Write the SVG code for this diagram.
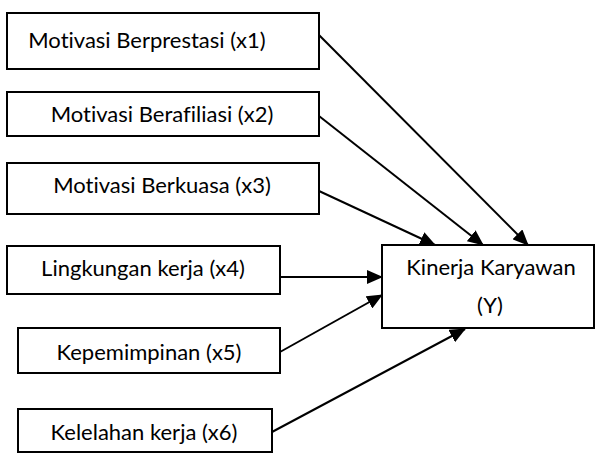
<svg xmlns="http://www.w3.org/2000/svg" width="597" height="455" viewBox="0 0 597 455">
<defs>
<style>
.box{fill:#fff;stroke:#000;stroke-width:2}
.t{font-family:"Lato","Open Sans","Liberation Sans",sans-serif;font-size:22px;fill:#000;text-anchor:middle;font-variant-ligatures:none}
.c{stroke:#000;stroke-width:2;fill:none;marker-end:url(#ah)}
</style>
<marker id="ah" markerUnits="userSpaceOnUse" markerWidth="16" markerHeight="14" refX="15" refY="7" orient="auto">
<path d="M0,0 L16,7 L0,14 Z" fill="#000"/>
</marker>
</defs>
<g id="n1"><rect class="box" x="7" y="13" width="312" height="56"/><text class="t" x="147" y="48">Motivasi Berprestasi (x1)</text></g>
<g id="n2"><rect class="box" x="7" y="92" width="312" height="44"/><text class="t" x="162" y="122">Motivasi Berafiliasi (x2)</text></g>
<g id="n3"><rect class="box" x="7" y="163" width="312" height="51"/><text class="t" x="162" y="193">Motivasi Berkuasa (x3)</text></g>
<g id="n4"><rect class="box" x="7" y="246" width="273" height="48"/><text class="t" x="143" y="276">Lingkungan kerja (x4)</text></g>
<g id="n5"><rect class="box" x="18" y="328" width="262" height="45"/><text class="t" x="149" y="360">Kepemimpinan (x5)</text></g>
<g id="n6"><rect class="box" x="18" y="409" width="254" height="43"/><text class="t" x="144" y="440">Kelelahan kerja (x6)</text></g>
<g id="y"><rect class="box" x="382" y="245" width="212" height="83"/><text class="t" x="491" y="275">Kinerja Karyawan</text><text class="t" x="490" y="313">(Y)</text></g>
<g id="connectors">
<line class="c" x1="319" y1="35" x2="528" y2="245"/>
<line class="c" x1="319" y1="116" x2="483" y2="245"/>
<line class="c" x1="319" y1="191" x2="435" y2="245"/>
<line class="c" x1="280" y1="277" x2="382" y2="277"/>
<line class="c" x1="280" y1="352" x2="382" y2="295"/>
<line class="c" x1="272" y1="432" x2="465" y2="329"/>
</g>
</svg>
